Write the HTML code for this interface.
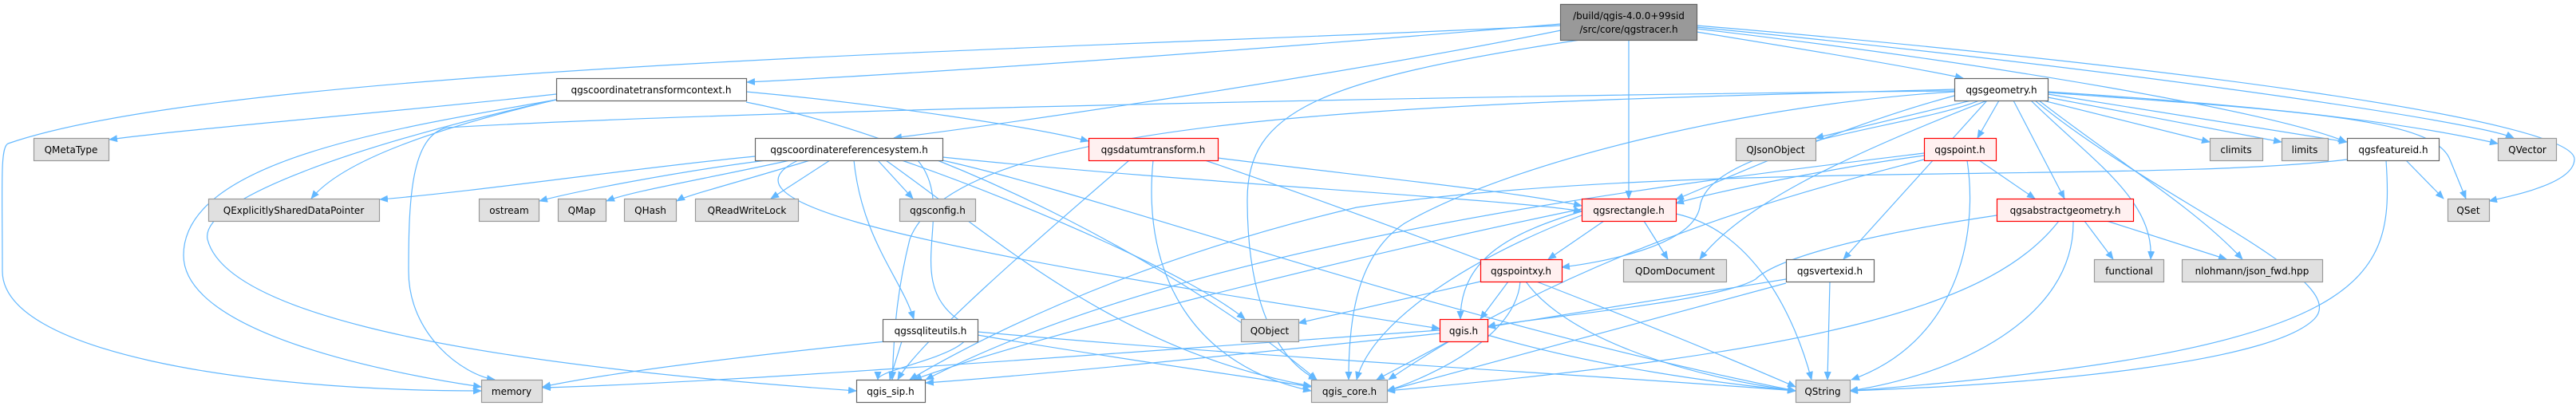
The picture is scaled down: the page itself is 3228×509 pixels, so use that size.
<!DOCTYPE html>
<html><head><meta charset="utf-8"><style>
html,body{margin:0;padding:0;background:#fff;}
svg{display:block;}
text{font-family:"DejaVu Sans","Liberation Sans",sans-serif;font-size:12px;fill:#000;text-anchor:middle;}
.e{fill:none;stroke:#63b8ff;stroke-width:1.2;marker-end:url(#a);}
.n rect{fill:#fff;stroke:#666;stroke-width:1.2;}
.g rect{fill:#e0e0e0;stroke:#999;stroke-width:1.2;}
.r rect{fill:#fff0f0;stroke:#f00;stroke-width:1.2;}
</style></head><body>
<svg width="3228" height="509" viewBox="0 0 3228 509" xmlns="http://www.w3.org/2000/svg">
<defs><marker id="a" markerUnits="userSpaceOnUse" markerWidth="11" markerHeight="9" refX="10" refY="4.5" orient="auto"><path d="M0,0 L11,4.5 L0,9 z" fill="#63b8ff"/></marker></defs>
<g>
<!-- main -->
<path class="e" d="M1956,32 C1400,60 300,80 10,180 C0,185 3,230 3,340 C3,440 300,490 603,490"/>
<path class="e" d="M1956,30 C1600,60 1200,90 936,103"/>
<path class="e" d="M1956,38 C1700,90 1300,150 1120,173"/>
<path class="e" d="M1980,50 C1650,100 1563,140 1563,250 C1563,380 1600,450 1650,476"/>
<path class="e" d="M2041,50 L2041,249"/>
<path class="e" d="M2126,40 C2250,60 2400,85 2460,98"/>
<path class="e" d="M2126,36 C2500,80 2850,140 2940,178"/>
<path class="e" d="M2126,34 C2600,80 3100,150 3150,173"/>
<path class="e" d="M2126,32 C2700,80 3230,150 3226,200 C3225,230 3150,245 3119,252"/>
<!-- ctc -->
<path class="e" d="M697,118 C500,140 250,160 137,175"/>
<path class="e" d="M697,125 C550,160 430,200 390,249"/>
<path class="e" d="M697,125 C500,160 230,200 230,320 C230,420 500,470 603,485"/>
<path class="e" d="M697,125 C450,180 250,250 260,300 C280,380 500,450 1073,490"/>
<path class="e" d="M935,128 C1200,180 1500,350 1650,476"/>
<path class="e" d="M935,115 C1100,130 1300,160 1364,177"/>
<!-- crs -->
<path class="e" d="M946,196 C800,210 600,240 476,250"/>
<path class="e" d="M960,201 C850,215 720,240 676,252"/>
<path class="e" d="M990,201 C880,225 790,240 760,252"/>
<path class="e" d="M1015,201 C920,230 860,245 848,252"/>
<path class="e" d="M1040,201 L966,249"/>
<path class="e" d="M1100,201 L1144,249"/>
<path class="e" d="M1070,201 C1080,300 1130,350 1145,400"/>
<path class="e" d="M1130,201 C1300,260 1500,350 1560,400"/>
<path class="e" d="M1000,201 C900,250 1100,300 1600,380 L1804,412"/>
<path class="e" d="M1150,201 C1200,260 1130,350 1200,400 C1260,440 1100,460 1100,476"/>
<path class="e" d="M1110,201 C1250,300 1400,440 1643,484"/>
<path class="e" d="M1181,197 C1500,230 1900,250 1982,265"/>
<path class="e" d="M1181,201 C1400,250 1800,400 2250,490"/>
<!-- dt -->
<path class="e" d="M1415,201 C1300,300 1150,430 1125,476"/>
<path class="e" d="M1445,201 C1430,350 1500,460 1643,490"/>
<path class="e" d="M1526,198 C1700,220 1900,240 1982,258"/>
<path class="e" d="M1510,201 C1800,300 2100,420 2250,485"/>
<!-- geom -->
<path class="e" d="M2470,126 L2275,173"/>
<path class="e" d="M2505,126 L2478,173"/>
<path class="e" d="M2523,126 L2587,249"/>
<path class="e" d="M2560,126 L2769,178"/>
<path class="e" d="M2566,122 L2859,178"/>
<path class="e" d="M2566,118 L2941,178"/>
<path class="e" d="M2566,115 C2800,130 3000,150 3130,180"/>
<path class="e" d="M2566,116 C2900,140 3050,150 3070,200 L3090,249"/>
<path class="e" d="M2545,126 C2620,200 2700,250 2695,325"/>
<path class="e" d="M2555,126 C2650,200 2750,260 2810,325"/>
<path class="e" d="M2550,126 C2700,250 2950,350 2900,400 C2850,450 2600,480 2318,490"/>
<path class="e" d="M2490,126 L2310,325"/>
<path class="e" d="M2480,126 C2400,160 2140,180 2130,260 C2120,310 2000,330 1957,335"/>
<path class="e" d="M2490,126 C2300,200 2180,260 2130,325"/>
<path class="e" d="M2449,115 C2200,130 1900,200 1760,280 C1700,320 1690,400 1690,476"/>
<path class="e" d="M2449,112 C1800,130 1200,140 1140,300 C1120,380 1120,440 1118,476"/>
<path class="e" d="M2449,114 C1800,120 900,140 560,160 C515,170 512,250 512,340 C512,420 580,470 620,476"/>
<path class="e" d="M2449,120 C2300,160 2150,230 2100,250"/>
<!-- point -->
<path class="e" d="M2480,201 L2550,249"/>
<path class="e" d="M2411,195 C2300,210 2150,240 2100,255"/>
<path class="e" d="M2411,200 C2300,230 2000,300 1740,476"/>
<path class="e" d="M2465,201 C2480,300 2450,430 2320,476"/>
<path class="e" d="M2411,192 C2100,230 1500,300 1160,476"/>
<!-- absgeom -->
<path class="e" d="M2612,277 L2648,325"/>
<path class="e" d="M2640,277 L2790,325"/>
<path class="e" d="M2598,277 C2600,400 2450,470 2318,490"/>
<path class="e" d="M2580,277 C2500,380 2300,440 1738,490"/>
<path class="e" d="M2502,270 C2300,300 2220,330 2200,350 C2150,380 1900,400 1864,410"/>
<!-- featid -->
<path class="e" d="M3015,201 L3062,249"/>
<path class="e" d="M2990,201 C3000,350 2980,440 2318,490"/>
<path class="e" d="M2941,200 C2700,230 2100,200 1700,260 C1400,330 1200,440 1140,476"/>
<!-- rect -->
<path class="e" d="M2010,277 L1940,325"/>
<path class="e" d="M2060,277 L2090,325"/>
<path class="e" d="M1982,265 C1900,290 1830,320 1830,400"/>
<path class="e" d="M1982,270 C1850,320 1720,400 1700,476"/>
<path class="e" d="M2100,268 C2200,290 2250,400 2270,476"/>
<path class="e" d="M1982,262 C1700,320 1300,420 1145,476"/>
<!-- pxy -->
<path class="e" d="M1890,353 L1855,400"/>
<path class="e" d="M1855,353 L1627,405"/>
<path class="e" d="M1905,353 C1900,420 1800,470 1738,490"/>
<path class="e" d="M1912,353 C1960,420 2100,470 2250,490"/>
<!-- qgis -->
<path class="e" d="M1804,418 C1500,450 1300,470 1160,480"/>
<path class="e" d="M1804,414 C1300,450 900,480 680,486"/>
<path class="e" d="M1815,428 L1725,476"/>
<path class="e" d="M1864,420 C2000,460 2150,480 2250,490"/>
<!-- vertexid -->
<path class="e" d="M2238,350 L1864,410"/>
<path class="e" d="M2238,355 L1738,490"/>
<path class="e" d="M2293,353 L2290,476"/>
<!-- sqlite -->
<path class="e" d="M1110,428 C900,450 750,470 680,485"/>
<path class="e" d="M1130,428 L1115,476"/>
<path class="e" d="M1225,420 C1400,450 1550,470 1643,485"/>
<path class="e" d="M1225,416 C1600,450 2000,470 2250,490"/>
</g>
<!-- nodes -->
<g><rect x="1955.5" y="5.5" width="171" height="45" fill="#999" stroke="#666" stroke-width="1.2"/><text x="2041" y="24">/build/qgis-4.0.0+99sid</text><text x="2041" y="41">/src/core/qgstracer.h</text></g>
<g class="n"><rect x="697.5" y="98.5" width="238" height="28"/><text x="816" y="117">qgscoordinatetransformcontext.h</text></g>
<g class="g"><rect x="42.5" y="173.5" width="94" height="28"/><text x="89" y="192">QMetaType</text></g>
<g class="n"><rect x="946.5" y="173.5" width="235" height="28"/><text x="1064" y="192">qgscoordinatereferencesystem.h</text></g>
<g class="g"><rect x="261.5" y="249.5" width="214" height="28"/><text x="368" y="268">QExplicitlySharedDataPointer</text></g>
<g class="g"><rect x="600.5" y="249.5" width="75" height="28"/><text x="638" y="268">ostream</text></g>
<g class="g"><rect x="699.5" y="249.5" width="60" height="28"/><text x="729" y="268">QMap</text></g>
<g class="g"><rect x="782.5" y="249.5" width="65" height="28"/><text x="815" y="268">QHash</text></g>
<g class="g"><rect x="871.5" y="249.5" width="129" height="28"/><text x="936" y="268">QReadWriteLock</text></g>
<g class="g"><rect x="603.5" y="476.5" width="76" height="28"/><text x="641" y="495">memory</text></g>
<g class="n"><rect x="1073.5" y="476.5" width="86" height="28"/><text x="1116" y="495">qgis_sip.h</text></g>
<g class="r"><rect x="1364.5" y="173.5" width="162" height="28"/><text x="1445" y="192">qgsdatumtransform.h</text></g>
<g class="g"><rect x="1127.5" y="249.5" width="95" height="28"/><text x="1175" y="268">qgsconfig.h</text></g>
<g class="r"><rect x="1982.5" y="249.5" width="118" height="28"/><text x="2041" y="268">qgsrectangle.h</text></g>
<g class="r"><rect x="1855.5" y="325.5" width="102" height="28"/><text x="1906" y="344">qgspointxy.h</text></g>
<g class="g"><rect x="2034.5" y="325.5" width="129" height="28"/><text x="2099" y="344">QDomDocument</text></g>
<g class="n"><rect x="1106.5" y="400.5" width="119" height="28"/><text x="1166" y="419">qgssqliteutils.h</text></g>
<g class="g"><rect x="1555.5" y="400.5" width="72" height="28"/><text x="1591" y="419">QObject</text></g>
<g class="r"><rect x="1804.5" y="400.5" width="60" height="28"/><text x="1834" y="419">qgis.h</text></g>
<g class="g"><rect x="1643.5" y="476.5" width="95" height="28"/><text x="1691" y="495">qgis_core.h</text></g>
<g class="n"><rect x="2449.5" y="98.5" width="117" height="28"/><text x="2508" y="117">qgsgeometry.h</text></g>
<g class="g"><rect x="2175.5" y="173.5" width="100" height="28"/><text x="2225" y="192">QJsonObject</text></g>
<g class="r"><rect x="2411.5" y="173.5" width="90" height="28"/><text x="2456" y="192">qgspoint.h</text></g>
<g class="g"><rect x="2769.5" y="173.5" width="66" height="28"/><text x="2802" y="192">climits</text></g>
<g class="g"><rect x="2859.5" y="173.5" width="58" height="28"/><text x="2888" y="192">limits</text></g>
<g class="n"><rect x="2941.5" y="173.5" width="115" height="28"/><text x="2999" y="192">qgsfeatureid.h</text></g>
<g class="g"><rect x="3130.5" y="173.5" width="73" height="28"/><text x="3167" y="192">QVector</text></g>
<g class="r"><rect x="2502.5" y="249.5" width="171" height="28"/><text x="2588" y="268">qgsabstractgeometry.h</text></g>
<g class="g"><rect x="3067.5" y="249.5" width="52" height="28"/><text x="3093" y="268">QSet</text></g>
<g class="n"><rect x="2238.5" y="325.5" width="110" height="28"/><text x="2293" y="344">qgsvertexid.h</text></g>
<g class="g"><rect x="2624.5" y="325.5" width="87" height="28"/><text x="2668" y="344">functional</text></g>
<g class="g"><rect x="2734.5" y="325.5" width="176" height="28"/><text x="2822" y="344">nlohmann/json_fwd.hpp</text></g>
<g class="g"><rect x="2250.5" y="476.5" width="68" height="28"/><text x="2284" y="495">QString</text></g>
</svg>
</body></html>
